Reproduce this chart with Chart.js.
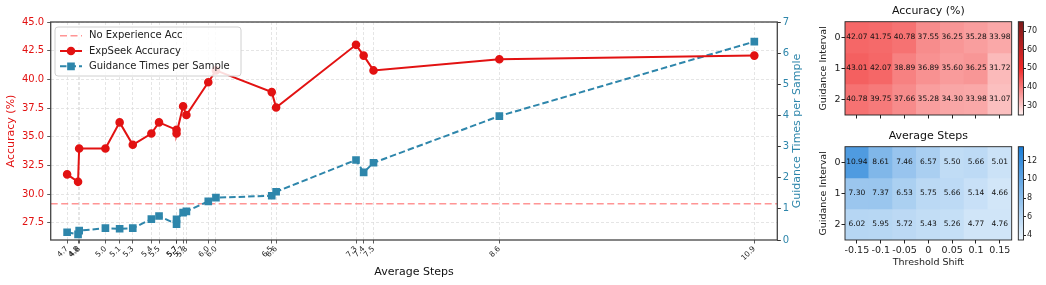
<!DOCTYPE html>
<html>
<head>
<meta charset="utf-8">
<script src="https://cdn.jsdelivr.net/npm/chart.js@4.4.1/dist/chart.umd.min.js"></script>
<style>
  html, body { margin: 0; padding: 0; background: #fff; }
  #wrap { position: relative; width: 1046px; height: 285px; overflow: hidden; }
  .box { position: absolute; }
</style>
</head>
<body>
<div id="wrap">
  <div class="box" style="left:0;top:0;width:815px;height:285px"><canvas id="lineChart"></canvas></div>
  <div class="box" style="left:805px;top:0;width:211px;height:125px"><canvas id="accMap"></canvas></div>
  <div class="box" style="left:1012px;top:0;width:34px;height:125px"><canvas id="accBar"></canvas></div>
  <div class="box" style="left:805px;top:125px;width:211px;height:160px"><canvas id="stepMap"></canvas></div>
  <div class="box" style="left:1012px;top:125px;width:34px;height:160px"><canvas id="stepBar"></canvas></div>
</div>
<script>
// Heatmap data (rows = guidance interval, cols = threshold shift)
const thresholds = ["-0.15", "-0.1", "-0.05", "0", "0.05", "0.1", "0.15"];
const intervals = ["0", "1", "2"];
const accRows = [
    [42.07, 41.75, 40.78, 37.55, 36.25, 35.28, 33.98],
    [43.01, 42.07, 38.89, 36.89, 35.60, 36.25, 31.72],
    [40.78, 39.75, 37.66, 35.28, 34.30, 33.98, 31.07],
];
const stepRows = [
    [10.94, 8.61, 7.46, 6.57, 5.50, 5.66, 5.01],
    [7.30, 7.37, 6.53, 5.75, 5.66, 5.14, 4.66],
    [6.02, 5.95, 5.72, 5.43, 5.26, 4.77, 4.76],
];

// Line chart data, sorted by average steps
const avgSteps = [4.66, 4.76, 4.77, 5.01, 5.14, 5.26, 5.43, 5.50, 5.66, 5.66, 5.72, 5.75, 5.95, 6.02, 6.53, 6.57, 7.30, 7.37, 7.46, 8.61, 10.94];
const accuracy = [31.72, 31.07, 33.98, 33.98, 36.25, 34.30, 35.28, 36.25, 35.60, 35.28, 37.66, 36.89, 39.75, 40.78, 38.89, 37.55, 43.01, 42.07, 40.78, 41.75, 42.07];
const guidance = [0.25, 0.18, 0.30, 0.38, 0.36, 0.38, 0.67, 0.77, 0.51, 0.66, 0.88, 0.92, 1.24, 1.36, 1.42, 1.55, 2.57, 2.17, 2.48, 3.98, 6.37];
const noExpAcc = 29.15;

// Tick labels
const accTicks = [27.5, 30, 32.5, 35, 37.5, 40, 42.5, 45];
const guideTicks = [0, 1, 2, 3, 4, 5, 6, 7];
const accBarTicks = [30, 40, 50, 60, 70];
const stepBarTicks = [4, 6, 8, 10, 12];

const xRange = [4.51, 11.15];
const accRange = [25, 75];
const stepRange = [3.5, 13.5];

const RED = "rgb(226,18,18)";
const BLUE = "#2e86ab";
const redStops = [[0, [255, 240, 240]], [0.5, [240, 40, 40]], [1, [122, 26, 26]]];
const blueStops = [[0, [234, 244, 253]], [1, [26, 124, 214]]];

Chart.defaults.font.family = '"DejaVu Sans", sans-serif';
Chart.defaults.animation = false;

function cmap(stops, t) {
    t = Math.max(0, Math.min(1, t));
    for (let i = 1; i < stops.length; i++) {
        if (t <= stops[i][0]) {
            const [t0, c0] = stops[i - 1];
            const [t1, c1] = stops[i];
            const f = (t - t0) / (t1 - t0);
            return "rgb(" + c0.map((c, k) => Math.round(c + (c1[k] - c) * f)).join(",") + ")";
        }
    }
    return "rgb(" + stops[stops.length - 1][1].join(",") + ")";
}

// Frame, legend and right axis label for the line chart
const lineDecor = {
    id: "lineDecor",
    afterDatasetsDraw(chart) {
        const ctx = chart.ctx;
        const a = chart.chartArea;
        ctx.save();
        ctx.strokeStyle = "#444";
        ctx.lineWidth = 1.3;
        ctx.strokeRect(a.left, a.top, a.right - a.left, a.bottom - a.top);

        // legend
        const lx = a.left + 4.3, ly = a.top + 5;
        ctx.beginPath();
        ctx.roundRect(lx, ly, 186, 49, 3);
        ctx.fillStyle = "rgba(255,255,255,0.85)";
        ctx.fill();
        ctx.strokeStyle = "#d0d0d0";
        ctx.lineWidth = 1;
        ctx.stroke();
        ctx.font = '10px "DejaVu Sans"';
        ctx.textBaseline = "middle";
        chart.data.datasets.forEach((ds, i) => {
            const y = ly + 8.7 + i * 15.3;
            ctx.strokeStyle = ds.borderColor;
            ctx.lineWidth = ds.borderWidth;
            ctx.setLineDash(ds.borderDash || []);
            ctx.beginPath();
            ctx.moveTo(lx + 5, y);
            ctx.lineTo(lx + 27, y);
            ctx.stroke();
            ctx.setLineDash([]);
            if (ds.pointRadius > 0) {
                ctx.fillStyle = ds.backgroundColor;
                Chart.helpers.drawPoint(ctx, {pointStyle: ds.pointStyle, radius: ds.pointRadius, borderWidth: 1, rotation: 0}, lx + 16, y);
            }
            ctx.fillStyle = "#222";
            ctx.fillText(ds.label, lx + 34, y);
        });

        // right axis title, reading upward
        ctx.translate(797, (a.top + a.bottom) / 2);
        ctx.rotate(-Math.PI / 2);
        ctx.textAlign = "center";
        ctx.fillStyle = BLUE;
        ctx.font = '11px "DejaVu Sans"';
        ctx.fillText("Guidance Times per Sample", 0, 0);
        ctx.restore();
    }
};

new Chart(document.getElementById("lineChart"), {
    type: "line",
    data: {
        datasets: [
            {
                label: "No Experience Acc",
                data: [{x: xRange[0], y: noExpAcc}, {x: xRange[1], y: noExpAcc}],
                borderColor: "rgba(255,130,130,0.85)",
                borderDash: [7, 3.5],
                borderWidth: 1.5,
                pointRadius: 0,
                yAxisID: "y",
                order: 3,
            },
            {
                label: "ExpSeek Accuracy",
                data: avgSteps.map((x, i) => ({x: x, y: accuracy[i]})),
                borderColor: RED,
                backgroundColor: RED,
                borderWidth: 2,
                pointRadius: 3.3,
                pointStyle: "circle",
                yAxisID: "y",
                order: 1,
            },
            {
                label: "Guidance Times per Sample",
                data: avgSteps.map((x, i) => ({x: x, y: guidance[i]})),
                borderColor: BLUE,
                backgroundColor: BLUE,
                borderWidth: 2,
                borderDash: [6.5, 3],
                pointRadius: 4,
                pointStyle: "rect",
                yAxisID: "y1",
                order: 2,
            },
        ],
    },
    options: {
        responsive: true,
        maintainAspectRatio: false,
        layout: {padding: {top: 22, left: 0, right: 0, bottom: 0}},
        scales: {
            x: {
                type: "linear",
                min: xRange[0],
                max: xRange[1],
                afterBuildTicks: (s) => { s.ticks = avgSteps.map((v) => ({value: v})); },
                ticks: {
                    autoSkip: false, minRotation: 45, maxRotation: 45,
                    font: {size: 7.5}, color: "#222", padding: 1,
                    callback: (v) => v.toFixed(1),
                },
                grid: {color: "#dedede", lineWidth: 0.8, tickLength: 3.5, tickColor: "#333", tickBorderDash: []},
                border: {display: false, dash: [3, 2]},
                title: {display: true, text: "Average Steps", font: {size: 11}, color: "#111", padding: {top: 0, bottom: 6.7}},
                afterFit: (s) => { s.height = 45; },
            },
            y: {
                position: "left",
                min: 26,
                max: 45,
                afterBuildTicks: (s) => { s.ticks = accTicks.map((v) => ({value: v})); },
                ticks: {color: RED, font: {size: 10}, padding: 3, callback: (v) => v.toFixed(1)},
                grid: {color: "#dedede", lineWidth: 0.8, tickLength: 3.5, tickColor: "#333", tickBorderDash: []},
                border: {display: false, dash: [3, 2]},
                title: {display: true, text: "Accuracy (%)", color: RED, font: {size: 11}, padding: {top: 5, bottom: 0}},
                afterFit: (s) => { s.width = 50.7; },
            },
            y1: {
                position: "right",
                min: 0,
                max: 7,
                afterBuildTicks: (s) => { s.ticks = guideTicks.map((v) => ({value: v})); },
                ticks: {color: BLUE, font: {size: 10}, padding: 2},
                grid: {drawOnChartArea: false, tickLength: 3.5, tickColor: "#333"},
                border: {display: false},
                afterFit: (s) => { s.width = 815 - 777.3; },
            },
        },
        plugins: {legend: {display: false}, tooltip: {enabled: false}},
    },
    plugins: [lineDecor],
});

// Cell values, frame and title for heatmaps
const cellText = {
    id: "cellText",
    afterDatasetsDraw(chart, args, opts) {
        const ctx = chart.ctx;
        const a = chart.chartArea;
        ctx.save();
        ctx.font = '7.5px "DejaVu Sans"';
        ctx.fillStyle = "#111";
        ctx.textAlign = "center";
        ctx.textBaseline = "middle";
        chart.data.datasets.forEach((ds, i) => {
            chart.getDatasetMeta(i).data.forEach((bar, j) => {
                const p = bar.getProps(["x", "y", "base"], true);
                ctx.fillText(ds.values[j].toFixed(2), p.x, (p.y + p.base) / 2);
            });
        });
        ctx.strokeStyle = "#222";
        ctx.lineWidth = 0.9;
        ctx.strokeRect(a.left, a.top, a.right - a.left, a.bottom - a.top);
        if (opts.title) {
            ctx.font = '11px "DejaVu Sans"';
            ctx.fillText(opts.title, (a.left + a.right) / 2, 11.5);
        }
        ctx.restore();
    }
};

function heatmap(id, rows, range, stops, title, xTitle) {
    const datasets = rows.map((row, r) => ({
        data: row.map(() => [r - 0.5, r + 0.5]),
        values: row,
        backgroundColor: row.map((v) => cmap(stops, (v - range[0]) / (range[1] - range[0]))),
        borderWidth: 0,
        barPercentage: 1,
        categoryPercentage: 1,
        grouped: false,
    }));
    new Chart(document.getElementById(id), {
        type: "bar",
        data: {labels: thresholds, datasets: datasets},
        options: {
            responsive: true,
            maintainAspectRatio: false,
            layout: {padding: {top: 21.7, right: 4.3, left: 0, bottom: 0}},
            scales: {
                x: {
                    grid: {offset: false, drawOnChartArea: false, tickLength: 3.5, tickColor: "#222"},
                    border: {display: false},
                    ticks: {display: !!xTitle, autoSkip: false, maxRotation: 0, font: {size: 9.5}, color: "#222", padding: 1},
                    title: xTitle
                        ? {display: true, text: xTitle, font: {size: 9.5}, color: "#222", padding: {top: 0, bottom: 16.6}}
                        : {display: false},
                    afterFit: (s) => { s.height = xTitle ? 45 : 10; },
                },
                y: {
                    type: "linear",
                    reverse: true,
                    min: -0.5,
                    max: 2.5,
                    afterBuildTicks: (s) => { s.ticks = intervals.map((_, i) => ({value: i})); },
                    ticks: {callback: (v) => intervals[v], font: {size: 9.5}, color: "#222", padding: 1},
                    grid: {drawOnChartArea: false, tickLength: 3.5, tickColor: "#222"},
                    border: {display: false},
                    title: {display: true, text: "Guidance Interval", font: {size: 9.5}, color: "#222", padding: {top: 13.3, bottom: 0}},
                    afterFit: (s) => { s.width = 40; },
                },
            },
            plugins: {legend: {display: false}, tooltip: {enabled: false}, cellText: {title: title}},
        },
        plugins: [cellText],
    });
}

const barFrame = {
    id: "barFrame",
    afterDatasetsDraw(chart) {
        const a = chart.chartArea;
        const ctx = chart.ctx;
        ctx.save();
        ctx.strokeStyle = "#222";
        ctx.lineWidth = 0.9;
        ctx.strokeRect(a.left, a.top, a.right - a.left, a.bottom - a.top);
        ctx.restore();
    }
};

function colorbar(id, range, stops, ticks, padBottom) {
    new Chart(document.getElementById(id), {
        type: "bar",
        data: {
            labels: [""],
            datasets: [{
                data: [range],
                backgroundColor: (c) => {
                    const ch = c.chart;
                    if (!ch.chartArea) return null;
                    const y = ch.scales.y;
                    const g = ch.ctx.createLinearGradient(0, y.getPixelForValue(range[0]), 0, y.getPixelForValue(range[1]));
                    stops.forEach(([t, col]) => g.addColorStop(t, "rgb(" + col.join(",") + ")"));
                    return g;
                },
                borderWidth: 0,
                barPercentage: 1,
                categoryPercentage: 1,
            }],
        },
        options: {
            responsive: true,
            maintainAspectRatio: false,
            layout: {padding: {left: 6.3, top: 21.7, bottom: padBottom, right: 0}},
            scales: {
                x: {display: false},
                y: {
                    position: "right",
                    min: range[0],
                    max: range[1],
                    afterBuildTicks: (s) => { s.ticks = ticks.map((v) => ({value: v})); },
                    ticks: {font: {size: 8}, color: "#222", padding: 1},
                    grid: {drawOnChartArea: false, tickLength: 2.5, tickColor: "#222"},
                    border: {display: false},
                    afterFit: (s) => { s.width = 22.5; },
                },
            },
            plugins: {legend: {display: false}, tooltip: {enabled: false}},
        },
        plugins: [barFrame],
    });
}

heatmap("accMap", accRows, accRange, redStops, "Accuracy (%)", null);
colorbar("accBar", accRange, redStops, accBarTicks, 10);
heatmap("stepMap", stepRows, stepRange, blueStops, "Average Steps", "Threshold Shift");
colorbar("stepBar", stepRange, blueStops, stepBarTicks, 45);
</script>
</body>
</html>
